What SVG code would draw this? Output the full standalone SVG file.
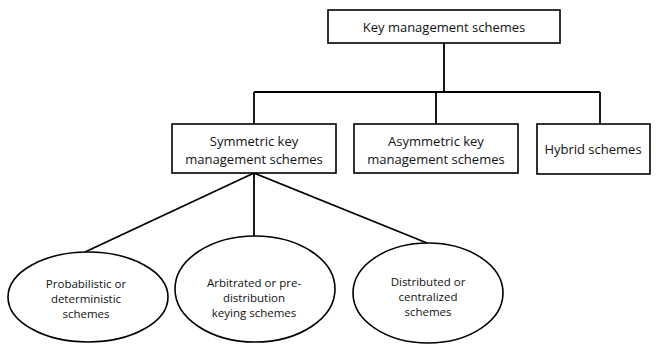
<svg xmlns="http://www.w3.org/2000/svg" width="656" height="345" viewBox="0 0 656 345">
<style>
.box{fill:#fff;stroke:#000;stroke-width:1.6}
.ell{fill:#fff;stroke:#000;stroke-width:1.6}
.line{fill:none;stroke:#000;stroke-width:1.8}
.t{font-family:"Open Sans","Liberation Sans",sans-serif;font-size:13px;fill:#111;text-anchor:middle;dominant-baseline:central}
.s{font-family:"Open Sans","Liberation Sans",sans-serif;font-size:11.5px;fill:#111;text-anchor:middle;dominant-baseline:central}
</style>
<rect width="656" height="345" fill="#fff"/>
<g id="connectors">
<path class="line" d="M444 43V92M254 92H600M254 92V124M436 92V124M600 92V124"/>
<path class="line" d="M254 173L85 252M254 173V243M254 173L427 243"/>
</g>
<g id="root"><rect class="box" x="328" y="10" width="232" height="33"/><text class="t" x="444" y="27">Key management schemes</text></g>
<g id="symmetric"><rect class="box" x="172" y="124" width="164" height="49"/><text class="t" x="254" y="141">Symmetric key</text><text class="t" x="254" y="158.5">management schemes</text></g>
<g id="asymmetric"><rect class="box" x="354" y="124" width="164" height="49"/><text class="t" x="436" y="141">Asymmetric key</text><text class="t" x="436" y="158.5">management schemes</text></g>
<g id="hybrid"><rect class="box" x="537" y="124" width="113" height="50"/><text class="t" x="593" y="149">Hybrid schemes</text></g>
<g id="probabilistic"><ellipse class="ell" cx="88" cy="297" rx="80" ry="45"/><text class="s" x="86" y="283">Probabilistic or</text><text class="s" x="86" y="298">deterministic</text><text class="s" x="86" y="313">schemes</text></g>
<g id="arbitrated"><ellipse class="ell" cx="255" cy="289" rx="80" ry="53"/><text class="s" x="254" y="282">Arbitrated or pre-</text><text class="s" x="254" y="297">distribution</text><text class="s" x="254" y="312">keying schemes</text></g>
<g id="distributed"><ellipse class="ell" cx="428" cy="293" rx="75" ry="50"/><text class="s" x="428" y="281">Distributed or</text><text class="s" x="428" y="296">centralized</text><text class="s" x="428" y="311">schemes</text></g>
</svg>
